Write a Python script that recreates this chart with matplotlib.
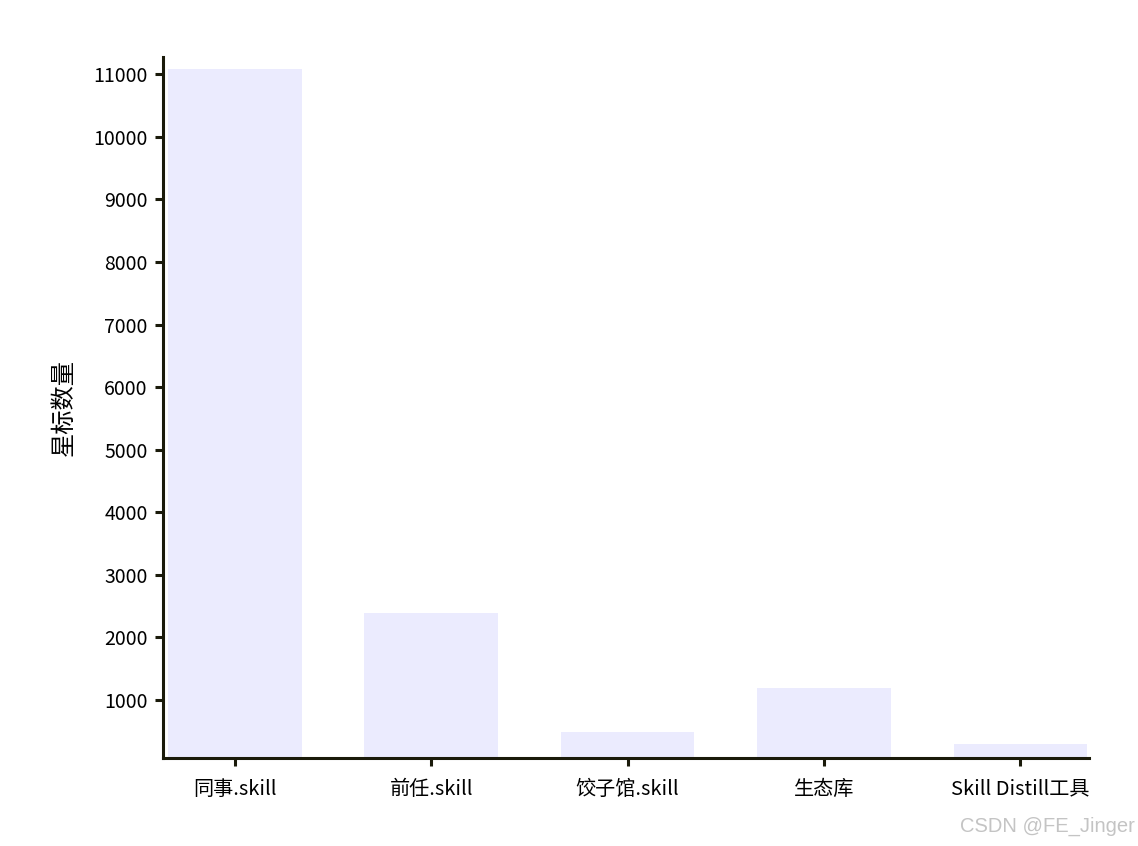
import matplotlib
matplotlib.use("Agg")
import matplotlib.pyplot as plt

plt.rcParams['font.family'] = ['Noto Sans CJK SC', 'DejaVu Sans']

categories = ["同事.skill", "前任.skill", "饺子馆.skill", "生态库", "Skill Distill工具"]
stars = [11080, 2390, 495, 1190, 295]
yticks = [1000, 2000, 3000, 4000, 5000, 6000, 7000, 8000, 9000, 10000, 11000]

W, H = 1138, 846
fig = plt.figure(figsize=(W / 100, H / 100), dpi=100)
ax = fig.add_axes([163 / W, (H - 758) / H, (1089 - 163) / W, (758 - 57) / H])

x = list(range(len(categories)))
ax.bar(x, stars, width=0.68, color="#EBEBFE", edgecolor="none")

ax.set_xlim(-0.366, 4.35)
ax.set_ylim(73, 11276)
ax.set_xticks(x)
ax.set_xticklabels(categories, fontsize=14.5)
ax.set_yticks(yticks)
ax.set_yticklabels([str(v) for v in yticks], fontsize=14)
ax.set_ylabel("星标数量", fontsize=17.5, labelpad=12)

for s in ["top", "right"]:
    ax.spines[s].set_visible(False)
for s in ["left", "bottom"]:
    ax.spines[s].set_linewidth(2.2)
    ax.spines[s].set_color("#1a1a0a")
ax.tick_params(axis="both", length=6, width=2.2, color="#1a1a0a", labelcolor="black")
ax.tick_params(axis="y", pad=5)
ax.tick_params(axis="x", pad=9)

fig.text(1135 / W, (H - 826) / H, "CSDN @FE_Jinger", ha="right", va="center",
         fontsize=14.5, color="#c4c4c4", family="Liberation Sans")

fig.savefig("out.png", dpi=100)
